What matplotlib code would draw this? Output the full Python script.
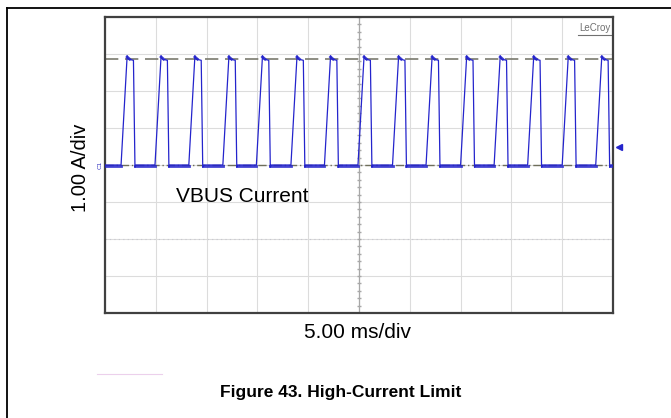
#Scope capture: VBUS current in high-current limit (hiccup pulses)
import matplotlib.pyplot as plt
import numpy as np

plt.rcParams['font.family'] = ['Liberation Sans', 'DejaVu Sans']

# Pulse edges (ms), levels in A
rise_start_ms = [1.58, 4.92, 8.25, 11.6, 14.9, 18.3, 21.6, 24.9,
                 28.3, 31.6, 35.0, 38.3, 41.6, 45.0, 48.3]
rise_ms = 0.6
top_ms = 0.62
fall_ms = 0.15
low_a = 0.0
peak_a = 2.95
high_a = 2.86
undershoot_a = -0.06
limit_a = 2.86

x_label = '5.00 ms/div'
y_label = '1.00 A/div'
trace_name = 'VBUS Current'
title = 'Figure 43. High-Current Limit'

# Build trace from edges
t = [0.0]
i = [low_a]
lows_t = []
prev_end = 0.0
for rs in rise_start_ms:
    lows_t.append([prev_end, rs])
    t += [rs, rs + rise_ms, rs + rise_ms + 0.15, rs + rise_ms + top_ms,
          rs + rise_ms + top_ms + fall_ms, rs + rise_ms + top_ms + fall_ms + 0.1]
    i += [low_a, peak_a, high_a, high_a - 0.03, undershoot_a, low_a]
    prev_end = rs + rise_ms + top_ms + fall_ms
lows_t.append([prev_end, 50.0])
t.append(50.0)
i.append(low_a)

fig = plt.figure(figsize=(6.71, 4.18), dpi=100)
ax = fig.add_axes([105 / 671, 105 / 418, 508 / 671, 296 / 418])

# grid
for gx in range(0, 51, 5):
    ax.axvline(gx, color='#dcdcdc', lw=0.8, zorder=0)
for gy in range(-4, 5):
    ax.axhline(gy, color='#dcdcdc', lw=0.8, zorder=0)
ax.axhline(-2, color='#c8c8d0', lw=0.8, ls=(0, (1, 3)), zorder=0)
ax.axvline(25, color='#a8a8a8', lw=0.9, zorder=1)
ax.plot(np.full(41, 25.0), np.linspace(-4, 4, 41), ls='none', marker='_',
        ms=3, color='#a8a8a8', zorder=1)

# reference levels
ax.axhline(limit_a, color='#7a7a6e', lw=1.2, ls=(0, (8, 4)), zorder=2)
ax.axhline(low_a, color='#6e6e5a', lw=1.0, ls=(0, (6, 2, 1, 2)), zorder=2)

# trace
trace_col = '#2424cc'
ax.plot(t, i, color=trace_col, lw=0.9, zorder=3)
for seg in lows_t:
    ax.plot(seg, [low_a - 0.02, low_a - 0.02], color=trace_col, lw=2.0,
            alpha=0.85, zorder=3)
for rs in rise_start_ms:
    ax.plot([rs + rise_ms, rs + rise_ms + 0.25], [peak_a - 0.03, high_a],
            color=trace_col, lw=2.0, alpha=0.85, zorder=3)

ax.set_xlim(0, 50)
ax.set_ylim(-4, 4)
ax.set_xticks([])
ax.set_yticks([])
for side in ax.spines.values():
    side.set_color('#404040')
    side.set_linewidth(1.6)

# markers
ax.text(-0.25, low_a, 'C1', color='#3030c0', fontsize=4.5, rotation=90,
        ha='right', va='center')
ax.plot([50.55], [0.5], marker='<', color=trace_col, ms=4, clip_on=False)
ax.text(49.8, 3.85, 'LeCroy', color='#707070', fontsize=7, ha='right', va='top')
ax.plot([46.6, 49.8], [3.52, 3.52], color='#707070', lw=0.8)

ax.text(7.0, -0.85, trace_name, fontsize=15, ha='left', va='center')
fig.text(358 / 671, 1 - 332 / 418, x_label, fontsize=15, ha='center', va='center')
fig.text(81 / 671, 1 - 168 / 418, y_label, fontsize=14.5, rotation=90,
         ha='center', va='center')
fig.text(341 / 671, 1 - 393 / 418, title, fontsize=12.5, fontweight='bold',
         ha='center', va='center')

# page frame and stray pink rule
fig.add_artist(plt.Line2D([7 / 671, 7 / 671], [0, 1 - 8 / 418], color='black', lw=1.3))
fig.add_artist(plt.Line2D([7 / 671, 1], [1 - 8 / 418, 1 - 8 / 418], color='black', lw=1.3))
fig.add_artist(plt.Line2D([97 / 671, 162 / 671], [1 - 374 / 418, 1 - 374 / 418],
                          color='#ecd0ec', lw=0.8))

fig.savefig('out.png', dpi=100)
